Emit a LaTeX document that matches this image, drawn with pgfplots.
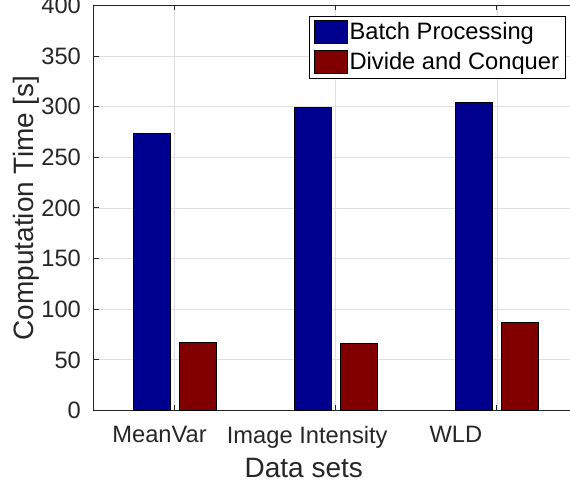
\documentclass[border=0pt]{standalone}
\usepackage{fontspec}
\setmainfont{Liberation Sans}
\usepackage{pgfplots}
\pgfplotsset{compat=1.18}
\definecolor{bpblue}{RGB}{0,0,143}
\definecolor{dcred}{RGB}{128,0,0}
\definecolor{axgray}{RGB}{38,38,38}
\definecolor{gridgray}{RGB}{223,223,223}
\pgfplotsset{mylegend/.style={legend image code/.code={\draw[##1,draw=black] (0pt,-5.7pt) rectangle (16.5pt,5.7pt);}}}
\begin{document}
\begin{tikzpicture}
\begin{axis}[
  scale only axis, width=241.75pt, height=202.5pt,
  ybar=4.65pt, bar width=18.35pt,
  xmin=0.5, xmax=3.5, ymin=0, ymax=400,
  xtick={1,2,3},
  xticklabels={{\makebox[0pt][c]{MeanVar\hspace*{15pt}}},{\makebox[0pt][c]{Image Intensity\hspace*{28.5pt}}},{\makebox[0pt][c]{WLD\hspace*{41pt}}}},
  ytick={0,50,...,400},
  tick align=inside, tick pos=both,
  major tick length=2.5pt,
  grid=major, major grid style={gridgray, line width=0.4pt},
  axis line style={axgray, line width=0.5pt},
  every tick/.style={axgray, line width=0.5pt},
  tick label style={font=\fontsize{11.85}{14}\selectfont, text=axgray},
  /pgf/number format/assume math mode=true,
  yticklabel style={xshift=-3pt},
  xticklabel style={yshift=-4.5pt},
  xlabel={Data sets}, ylabel={Computation Time [s]},
  xlabel style={at={(axis description cs:0.5,0)}, anchor=north, inner sep=0pt, yshift=-23.5pt, xshift=-16pt, font=\fontsize{14}{16.8}\selectfont, text=axgray},
  ylabel style={at={(axis description cs:0,0.5)}, yshift=34pt, anchor=center, inner sep=0pt, font=\fontsize{14}{16.8}\selectfont, text=axgray},
  legend style={at={(0.975,0.975)}, anchor=north east, draw=black, fill=white, font=\fontsize{11.85}{14}\selectfont, inner sep=2pt, row sep=3pt, nodes={inner sep=1pt}},
  legend cell align=left,
  mylegend,
]
\addplot[fill=bpblue, draw=black, line width=0.4pt, mylegend] coordinates {(1,274) (2,299) (3,304)};
\addplot[fill=dcred, draw=black, line width=0.4pt, mylegend] coordinates {(1,67) (2,66) (3,87)};
\legend{Batch Processing, Divide and Conquer}
\end{axis}
\pgfresetboundingbox
\path[use as bounding box] (-47pt,-40pt) rectangle (238pt,205.25pt);
\end{tikzpicture}
\end{document}
